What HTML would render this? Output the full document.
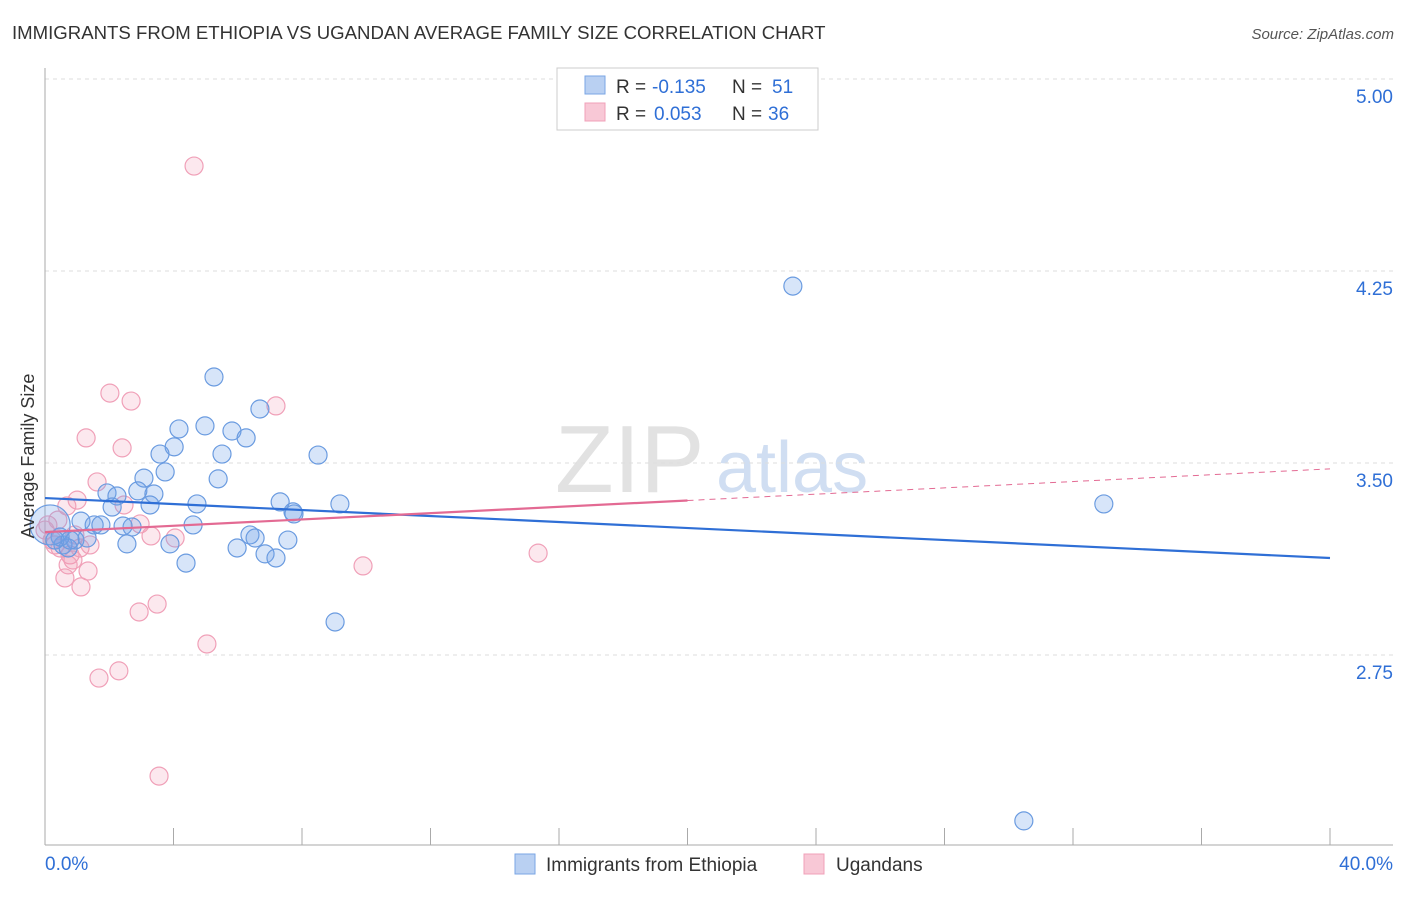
<!DOCTYPE html>
<html><head><meta charset="utf-8"><style>
body{margin:0;background:#fff;font-family:"Liberation Sans",sans-serif}
svg text{font-family:"Liberation Sans",sans-serif}
</style></head><body>
<svg id="c" width="1406" height="892">
<text x="12" y="39" font-size="18.6" fill="#333">IMMIGRANTS FROM ETHIOPIA VS UGANDAN AVERAGE FAMILY SIZE CORRELATION CHART</text>
<text x="1394" y="39" font-size="15" fill="#555" text-anchor="end" font-style="italic">Source: ZipAtlas.com</text>
<text x="555" y="492" font-size="96" fill="#e2e2e2" font-family="Liberation Serif">ZIP</text>
<text x="716" y="492" font-size="72" fill="#d0def2">atlas</text>
<g id="grid"></g><g id="axes"></g><g id="marks"></g>
<g>
<rect x="557" y="68" width="261" height="62" fill="#fff" stroke="#ccc"/>
<rect x="585" y="76" width="20" height="18" fill="#b9d0f2" stroke="#7aa6e4"/>
<rect x="585" y="103" width="20" height="18" fill="#f8c8d6" stroke="#f0a0b8"/>
<text x="616" y="93" font-size="19" fill="#333">R =</text>
<text x="652" y="93" font-size="19" fill="#2f6fd6">-0.135</text>
<text x="732" y="93" font-size="19" fill="#333">N =</text>
<text x="772" y="93" font-size="19" fill="#2f6fd6">51</text>
<text x="616" y="120" font-size="19" fill="#333">R =</text>
<text x="654" y="120" font-size="19" fill="#2f6fd6">0.053</text>
<text x="732" y="120" font-size="19" fill="#333">N =</text>
<text x="768" y="120" font-size="19" fill="#2f6fd6">36</text>
</g>
<g>
<rect x="515" y="854" width="20" height="20" fill="#b9d0f2" stroke="#7aa6e4"/>
<text x="546" y="871" font-size="19" fill="#333">Immigrants from Ethiopia</text>
<rect x="804" y="854" width="20" height="20" fill="#f8c8d6" stroke="#f0a0b8"/>
<text x="836" y="871" font-size="19" fill="#333">Ugandans</text>
</g>
<text transform="translate(34,456) rotate(-90)" font-size="18" fill="#333" text-anchor="middle">Average Family Size</text>
</svg>
<script>
const yTicks=[5.00,4.25,3.50,2.75];
const xTickLabels=["0.0%","40.0%"];
const blueX=[5.26,6.69,4.98,4.17,5.82,6.26,4.02,3.58,5.51,8.50,3.74,5.39,3.08,1.93,2.24,2.89,3.39,4.73,7.32,9.18,2.09,3.27,7.72,7.75,1.12,1.53,1.74,2.71,2.43,4.61,6.38,6.54,7.56,5.98,6.85,7.19,2.55,3.89,4.39,0.93,0.56,0.72,0.47,0.16,9.03,23.28,32.96,30.47,1.31,0.31,0.78];
const blueY=[3.836,3.711,3.645,3.633,3.625,3.598,3.563,3.535,3.535,3.531,3.465,3.438,3.441,3.383,3.371,3.391,3.379,3.340,3.348,3.340,3.328,3.336,3.309,3.301,3.273,3.258,3.258,3.250,3.254,3.258,3.219,3.207,3.199,3.168,3.145,3.129,3.184,3.184,3.109,3.199,3.180,3.168,3.211,3.258,2.879,4.191,3.340,2.102,3.207,3.199,3.199];
const pinkX=[4.64,2.02,2.68,7.19,1.28,2.40,1.62,1.00,0.68,2.46,2.96,3.30,4.05,0.09,0.31,0.47,0.78,0.87,0.72,1.34,0.62,1.12,2.93,3.49,5.04,2.30,1.68,3.55,9.90,15.35,1.09,0.22,0.40,0.00,1.40,0.93];
const pinkY=[4.660,3.773,3.742,3.723,3.598,3.559,3.426,3.355,3.332,3.336,3.262,3.215,3.207,3.258,3.180,3.168,3.141,3.121,3.102,3.078,3.051,3.016,2.918,2.949,2.793,2.688,2.660,2.277,3.098,3.148,3.168,3.199,3.277,3.238,3.180,3.219];
const blueTrend=[3.363,3.129];
const pinkTrend=[3.230,3.477];
const NS="http://www.w3.org/2000/svg";
const X=v=>45+v*(1285/40);
const Y=v=>79+(5-v)*256;
function mk(p,t,a){const e=document.createElementNS(NS,t);for(const k in a)e.setAttribute(k,a[k]);p.appendChild(e);return e;}
const grid=document.getElementById('grid'),axes=document.getElementById('axes'),marks=document.getElementById('marks');
yTicks.forEach(t=>{
 const l=mk(grid,'line',{x1:45,x2:1393,y1:Y(t),y2:Y(t),stroke:'#ddd','stroke-dasharray':'4,4'});
 
 
 const tx=mk(axes,'text',{x:1393,y:Y(t)+24,'font-size':19,fill:'#2f6fd6','text-anchor':'end'});
 tx.textContent=t.toFixed(2);
 
 
});
const la=mk(axes,'line',{x1:45,x2:45,y1:68,y2:845,stroke:'#aaa'});


const lb=mk(axes,'line',{x1:45,x2:1393,y1:845,y2:845,stroke:'#aaa'});


for(let i=0;i<=10;i++){
 const t=mk(axes,'line',{x1:X(i*4),x2:X(i*4),y1:828,y2:845,stroke:'#aaa'});
 
 
}
xTickLabels.forEach((s,i)=>{
 const t=mk(axes,'text',{x:i?1393:45,y:870,'font-size':19,fill:'#2f6fd6','text-anchor':i?'end':'start'});
 t.textContent=s;
 
 
});
function pts(xs,ys,fill,stroke,name){
 xs.forEach((x,i)=>{
  const c=mk(marks,'circle',{cx:X(x),cy:Y(ys[i]),r:(i===43&&name==='ethiopia-point')?20:9,fill:fill,stroke:stroke,'stroke-width':1.2});
  
  
 });
}
pts(pinkX,pinkY,'rgba(242,150,178,0.22)','#f0a0b8','ugandan-point');
pts(blueX,blueY,'rgba(110,160,232,0.28)','#6a9be0','ethiopia-point');
const bt=mk(marks,'line',{x1:X(0),x2:X(40),y1:Y(blueTrend[0]),y2:Y(blueTrend[1]),stroke:'#2f6fd6','stroke-width':2.2});


const pm=pinkTrend[0]+(pinkTrend[1]-pinkTrend[0])*0.5;
const pt=mk(marks,'line',{x1:X(0),x2:X(20),y1:Y(pinkTrend[0]),y2:Y(pm),stroke:'#e36a93','stroke-width':2.2});


const pd=mk(marks,'line',{x1:X(20),x2:X(40),y1:Y(pm),y2:Y(pinkTrend[1]),stroke:'#e36a93','stroke-width':1,'stroke-dasharray':'6,5'});


</script>
</body></html>
